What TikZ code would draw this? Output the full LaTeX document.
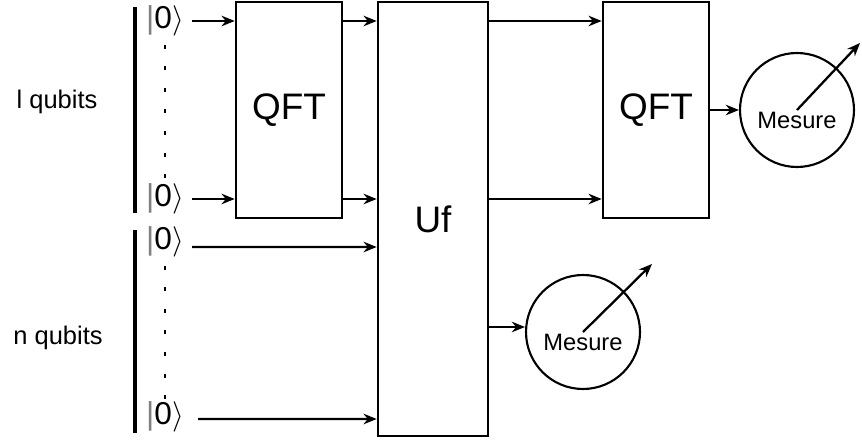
\documentclass[tikz,border=0pt]{standalone}
\usepackage{fontspec}
\setmainfont{Liberation Sans}
\usepackage{tikz}
\usetikzlibrary{arrows.meta, positioning}

\begin{document}
\begin{tikzpicture}[
  x=0.02cm, y=-0.02cm,
  gate/.style={draw, line width=1.5pt, minimum width=2.12cm, minimum height=4.32cm, inner sep=0pt, font=\fontsize{21}{24}\selectfont},
  meter/.style={draw, circle, line width=1.2pt, minimum size=2.28cm, inner sep=0pt, text height=0.76cm, text depth=0pt, font=\fontsize{13.5}{15}\selectfont},
  ket/.style={inner sep=0pt, font=\fontsize{18}{20}\selectfont},
  reg/.style={font=\fontsize{14.5}{17}\selectfont},
  arr/.style={-{Stealth[length=7.5pt, width=6pt]}, line width=1.3pt},
  bar/.style={line width=2.6pt},
  dots/.style={line width=1.7pt, dash pattern=on 2.3pt off 10pt},
]
  \useasboundingbox (0,0) rectangle (862,442);

  % Nodes
  \node[ket] (k1) at (165,21) {{\color{gray}\textbar}0$\rangle$};
  \node[ket] (k2) at (165,199) {{\color{gray}\textbar}0$\rangle$};
  \node[ket] (k3) at (165,242) {{\color{gray}\textbar}0$\rangle$};
  \node[ket] (k4) at (165,417) {{\color{gray}\textbar}0$\rangle$};
  \node[reg] (lq) at (57,102) {l qubits};
  \node[reg] (nq) at (58,338) {n qubits};
  \node[gate] (qft1) at (289,110) {QFT};
  \node[gate, minimum width=2.2cm, minimum height=8.68cm] (uf) at (433,219) {Uf};
  \node[gate] (qft2) at (656,110) {QFT};
  \node[meter] (m1) at (797,110) {Mesure};
  \node[meter] (m2) at (583,332) {Mesure};

  % Registers
  \draw[bar] (135,7) -- (135,213);
  \draw[bar] (135,230) -- (135,433);
  \draw[dots] (k1.south) ++(0,8) -- (k2.north);
  \draw[dots] (k3.south) ++(0,8) -- (k4.north);

  % Arrows
  \draw[arr] (k1.east) ++(8,0) -- (k1 -| qft1.west);
  \draw[arr] (k2.east) ++(8,0) -- (k2 -| qft1.west);
  \draw[arr] (k1 -| qft1.east) -- (k1 -| uf.west);
  \draw[arr] (k2 -| qft1.east) -- (k2 -| uf.west);
  \draw[arr] (k3.east) ++(8,5) -- ([yshift=-0.1cm]k3 -| uf.west);
  \draw[arr] (k4.east) ++(14,2) -- ([yshift=-0.04cm]k4 -| uf.west);
  \draw[arr] (k1 -| uf.east) -- (k1 -| qft2.west);
  \draw[arr] (k2 -| uf.east) -- (k2 -| qft2.west);
  \draw[arr] (qft2) -- (m1);
  \draw[arr] ([yshift=0.1cm]m2 -| uf.east) -- ([yshift=0.1cm]m2.west);
  \draw[arr] (m1.center) -- ++(63,-67);
  \draw[arr] (m2.center) -- ++(69,-68);

\end{tikzpicture}
\end{document}
